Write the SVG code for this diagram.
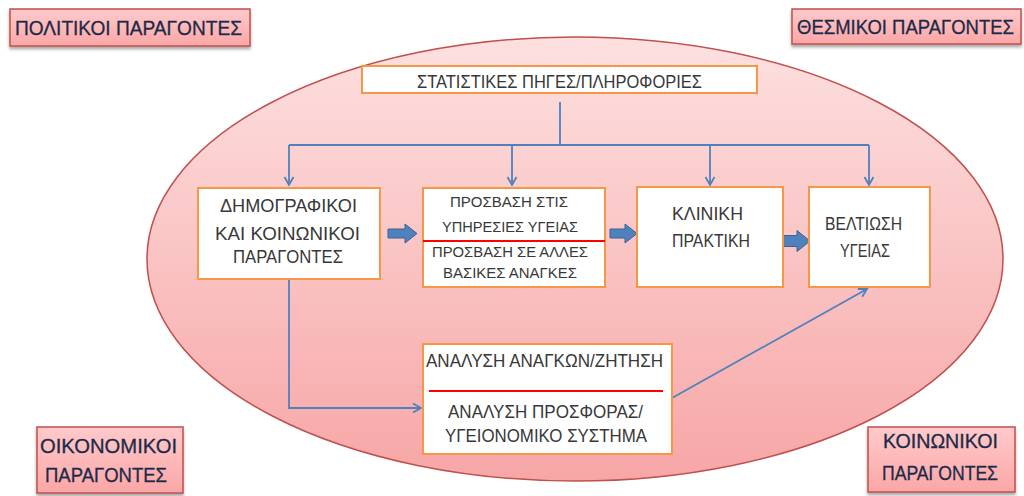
<svg xmlns="http://www.w3.org/2000/svg" width="1024" height="496" viewBox="0 0 1024 496">
  <defs>
    <linearGradient id="ovalFill" x1="0" y1="0" x2="0" y2="1">
      <stop offset="0" stop-color="#fde0e0"/>
      <stop offset="1" stop-color="#f7a6a6"/>
    </linearGradient>
    <linearGradient id="tagFill" x1="0" y1="0" x2="0" y2="1">
      <stop offset="0" stop-color="#ffcaca"/>
      <stop offset="1" stop-color="#fba6a6"/>
    </linearGradient>
    <filter id="shadow" x="-10%" y="-20%" width="120%" height="160%">
      <feDropShadow dx="0" dy="2.5" stdDeviation="1.6" flood-color="#000" flood-opacity="0.35"/>
    </filter>
    <marker id="open" markerWidth="12" markerHeight="12" refX="10" refY="6" orient="auto" markerUnits="userSpaceOnUse">
      <path d="M2,1.5 L10,6 L2,10.5" fill="none" stroke="#4f81bd" stroke-width="1.8"/>
    </marker>
  </defs>
  <style>
    .tag { fill: url(#tagFill); stroke: #c0504d; stroke-width: 1.5; filter: url(#shadow); }
    .box { fill: #ffffff; stroke: #f79646; stroke-width: 2; }
    .tagtxt { font-family: "Liberation Sans", Arial, sans-serif; font-size: 20px; fill: #1c2a4a; stroke: #1c2a4a; stroke-width: 0.3; }
    .txt { font-family: "Liberation Sans", Arial, sans-serif; font-size: 17.5px; fill: #383838; text-anchor: middle; }
    .small { font-size: 15px; }
    .conn { fill: none; stroke: #4f81bd; stroke-width: 1.8; }
    .block { fill: #4f81bd; stroke: #3a6496; stroke-width: 1; }
    .rule { stroke: #ff0000; stroke-width: 2; }
  </style>

  <rect width="1024" height="496" fill="#ffffff"/>

  <!-- background oval -->
  <ellipse id="context" cx="575" cy="259" rx="428" ry="222" fill="url(#ovalFill)" stroke="#c0504d" stroke-width="1.5"/>

  <!-- external factor labels -->
  <g id="political">
    <rect class="tag" x="10" y="9" width="240" height="37"/>
    <text class="tagtxt" x="128.5" y="35" text-anchor="middle" textLength="227" lengthAdjust="spacingAndGlyphs">ΠΟΛΙΤΙΚΟΙ ΠΑΡΑΓΟΝΤΕΣ</text>
  </g>
  <g id="institutional">
    <rect class="tag" x="792" y="9" width="229" height="35"/>
    <text class="tagtxt" x="797" y="34" font-size="18" textLength="217" lengthAdjust="spacingAndGlyphs">ΘΕΣΜΙΚΟΙ ΠΑΡΑΓΟΝΤΕΣ</text>
  </g>
  <g id="economic">
    <rect class="tag" x="37" y="427" width="146" height="66"/>
    <text class="tagtxt" x="108.5" y="453" text-anchor="middle" textLength="137" lengthAdjust="spacingAndGlyphs">ΟΙΚΟΝΟΜΙΚΟΙ</text>
    <text class="tagtxt" x="106" y="482" text-anchor="middle" textLength="122" lengthAdjust="spacingAndGlyphs">ΠΑΡΑΓΟΝΤΕΣ</text>
  </g>
  <g id="social">
    <rect class="tag" x="868" y="427" width="147" height="65"/>
    <text class="tagtxt" x="940.5" y="448" text-anchor="middle" textLength="115" lengthAdjust="spacingAndGlyphs">ΚΟΙΝΩΝΙΚΟΙ</text>
    <text class="tagtxt" x="940" y="480" text-anchor="middle" textLength="116" lengthAdjust="spacingAndGlyphs">ΠΑΡΑΓΟΝΤΕΣ</text>
  </g>

  <!-- connectors -->
  <g id="connectors">
    <path class="conn" d="M560,102 V145"/>
    <path class="conn" d="M289,145 H869"/>
    <path class="conn" d="M289,145 V185" marker-end="url(#open)"/>
    <path class="conn" d="M512,145 V185" marker-end="url(#open)"/>
    <path class="conn" d="M710,145 V185" marker-end="url(#open)"/>
    <path class="conn" d="M869,145 V185" marker-end="url(#open)"/>
    <path class="conn" d="M289,280 V408 H421" marker-end="url(#open)"/>
    <path class="conn" d="M672,398 L867,289" marker-end="url(#open)"/>
    <path class="block" d="M388,229 H405 V224 L417,233.5 L405,243 V238 H388 Z"/>
    <path class="block" d="M610,229 H625 V224 L637,233.5 L625,243 V238 H610 Z"/>
    <path class="block" d="M783,235.5 H797 V230.5 L810,241 L797,251.5 V246.5 H783 Z"/>
  </g>

  <!-- nodes -->
  <g id="sources">
    <rect class="box" x="362" y="66" width="395" height="27"/>
    <text class="txt" x="559.5" y="88" textLength="285" lengthAdjust="spacingAndGlyphs">ΣΤΑΤΙΣΤΙΚΕΣ ΠΗΓΕΣ/ΠΛΗΡΟΦΟΡΙΕΣ</text>
  </g>
  <g id="demographic">
    <rect class="box" x="198" y="188" width="182" height="91"/>
    <text class="txt" x="288.5" y="212" textLength="137" lengthAdjust="spacingAndGlyphs">ΔΗΜΟΓΡΑΦΙΚΟΙ</text>
    <text class="txt" x="287.5" y="240" textLength="145" lengthAdjust="spacingAndGlyphs">ΚΑΙ ΚΟΙΝΩΝΙΚΟΙ</text>
    <text class="txt" x="288" y="263" textLength="110" lengthAdjust="spacingAndGlyphs">ΠΑΡΑΓΟΝΤΕΣ</text>
  </g>
  <g id="access">
    <rect class="box" x="423" y="188" width="182" height="99"/>
    <text class="txt small" x="509" y="207" textLength="118" lengthAdjust="spacingAndGlyphs">ΠΡΟΣΒΑΣΗ ΣΤΙΣ</text>
    <text class="txt small" x="510" y="232" textLength="136" lengthAdjust="spacingAndGlyphs">ΥΠΗΡΕΣΙΕΣ ΥΓΕΙΑΣ</text>
    <line class="rule" x1="423" y1="241" x2="605" y2="241"/>
    <text class="txt small" x="510" y="257" textLength="156" lengthAdjust="spacingAndGlyphs">ΠΡΟΣΒΑΣΗ ΣΕ ΑΛΛΕΣ</text>
    <text class="txt small" x="510" y="278" textLength="134" lengthAdjust="spacingAndGlyphs">ΒΑΣΙΚΕΣ ΑΝΑΓΚΕΣ</text>
  </g>
  <g id="clinical">
    <rect class="box" x="637" y="187" width="146" height="100"/>
    <text class="txt" x="707.5" y="220" textLength="71" lengthAdjust="spacingAndGlyphs">ΚΛΙΝΙΚΗ</text>
    <text class="txt" x="711" y="247" textLength="78" lengthAdjust="spacingAndGlyphs">ΠΡΑΚΤΙΚΗ</text>
  </g>
  <g id="outcome">
    <rect class="box" x="809" y="187" width="121" height="100"/>
    <text class="txt" x="863.5" y="230" textLength="77" lengthAdjust="spacingAndGlyphs">ΒΕΛΤΙΩΣΗ</text>
    <text class="txt" x="865" y="257" textLength="50" lengthAdjust="spacingAndGlyphs">ΥΓΕΙΑΣ</text>
  </g>
  <g id="analysis">
    <rect class="box" x="423" y="344" width="249" height="110"/>
    <text class="txt" x="544.5" y="367" textLength="237" lengthAdjust="spacingAndGlyphs">ΑΝΑΛΥΣΗ ΑΝΑΓΚΩΝ/ΖΗΤΗΣΗ</text>
    <line class="rule" x1="429" y1="391" x2="663" y2="391"/>
    <text class="txt" x="545.5" y="418" textLength="195" lengthAdjust="spacingAndGlyphs">ΑΝΑΛΥΣΗ ΠΡΟΣΦΟΡΑΣ/</text>
    <text class="txt" x="546" y="442" textLength="202" lengthAdjust="spacingAndGlyphs">ΥΓΕΙΟΝΟΜΙΚΟ ΣΥΣΤΗΜΑ</text>
  </g>
</svg>
